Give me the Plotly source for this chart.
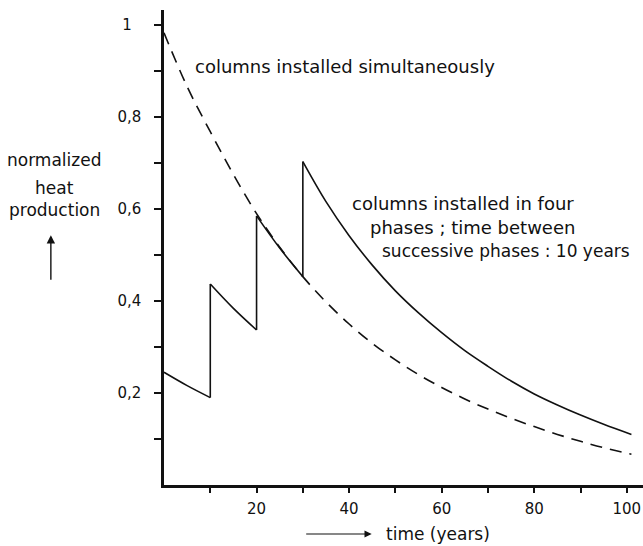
import plotly.graph_objects as go

# ---- data ----
# simultaneous installation (dashed)
sim_t = [0, 5, 10, 15, 20, 25, 30, 35, 40, 45, 50, 55, 60, 65, 70, 75, 80, 85, 90, 95, 101]
sim_y = [0.983, 0.866, 0.768, 0.675, 0.590, 0.517, 0.453, 0.398, 0.350, 0.308, 0.272,
         0.240, 0.212, 0.187, 0.165, 0.145, 0.127, 0.110, 0.095, 0.081, 0.067]

# installation in four phases (solid), one segment per phase
ph1_t = [0, 5, 10]
ph1_y = [0.245, 0.216, 0.190]
ph2_t = [10, 15, 20]
ph2_y = [0.437, 0.384, 0.337]
ph3_t = [20, 25, 30]
ph3_y = [0.585, 0.515, 0.453]
ph4_t = [30, 35, 40, 45, 50, 55, 60, 65, 70, 75, 80, 85, 90, 95, 101]
ph4_y = [0.703, 0.616, 0.542, 0.478, 0.422, 0.374, 0.331, 0.292, 0.258, 0.226,
         0.198, 0.174, 0.152, 0.132, 0.110]

x_tick_vals = [10, 20, 30, 40, 50, 60, 70, 80, 90, 100]
x_tick_text = ["", "20", "", "40", "", "60", "", "80", "", "100"]
y_tick_vals = [0.1, 0.2, 0.3, 0.4, 0.5, 0.6, 0.7, 0.8, 0.9, 1.0]
y_tick_text = ["", "0,2", "", "0,4", "", "0,6", "", "0,8", "", "1\u00a0\u00a0"]

FONT = "DejaVu Sans"
BLACK = "#111111"

fig = go.Figure()

fig.add_trace(go.Scatter(x=sim_t, y=sim_y, mode="lines",
                         line=dict(color=BLACK, width=1.6, dash="12px,8px", shape="spline"),
                         showlegend=False, hoverinfo="skip"))

segments = [(ph1_t, ph1_y), (ph2_t, ph2_y), (ph3_t, ph3_y), (ph4_t, ph4_y)]
for t, y in segments:
    fig.add_trace(go.Scatter(x=t, y=y, mode="lines",
                             line=dict(color=BLACK, width=1.6, shape="spline"),
                             showlegend=False, hoverinfo="skip"))
# vertical jumps where a new phase starts
for (t0, y0), (t1, y1) in zip(segments[:-1], segments[1:]):
    fig.add_trace(go.Scatter(x=[t0[-1], t1[0]], y=[y0[-1], y1[0]], mode="lines",
                             line=dict(color=BLACK, width=1.6),
                             showlegend=False, hoverinfo="skip"))

in_font = dict(family=FONT, size=18, color=BLACK)
in_font2 = dict(family=FONT, size=17, color=BLACK)
ax_font = dict(family=FONT, size=17, color=BLACK)
annotations = [
    dict(x=6.2, y=0.909, xref="x", yref="y", text="columns installed simultaneously",
         showarrow=False, xanchor="left", yanchor="middle", font=in_font),
    dict(x=40.1, y=0.611, xref="x", yref="y", text="columns installed in four",
         showarrow=False, xanchor="left", yanchor="middle", font=in_font),
    dict(x=44.0, y=0.559, xref="x", yref="y", text="phases ; time between",
         showarrow=False, xanchor="left", yanchor="middle", font=in_font),
    dict(x=46.6, y=0.509, xref="x", yref="y", text="successive phases : 10 years",
         showarrow=False, xanchor="left", yanchor="middle", font=in_font2),
    # y-axis label
    dict(x=-0.2288, y=0.684, xref="paper", yref="paper", text="normalized",
         showarrow=False, xanchor="center", yanchor="middle", font=ax_font),
    dict(x=-0.2288, y=0.625, xref="paper", yref="paper", text="heat",
         showarrow=False, xanchor="center", yanchor="middle", font=ax_font),
    dict(x=-0.2288, y=0.579, xref="paper", yref="paper", text="production",
         showarrow=False, xanchor="center", yanchor="middle", font=ax_font),
    dict(x=-0.2362, y=0.526, xref="paper", yref="paper", text="",
         showarrow=True, ax=0, ay=46, arrowhead=2, arrowsize=1.2, arrowwidth=1.4,
         arrowcolor=BLACK),
    # x-axis label
    dict(x=0.5716, y=-0.1032, xref="paper", yref="paper", text="time (years)",
         showarrow=False, xanchor="center", yanchor="middle", font=ax_font),
    dict(x=0.4336, y=-0.1032, xref="paper", yref="paper", text="",
         showarrow=True, ax=-67, ay=0, arrowhead=2, arrowsize=1.2, arrowwidth=1.2,
         arrowcolor=BLACK),
]

fig.update_layout(
    width=643, height=546,
    margin=dict(l=164, r=0, t=10, b=61),
    paper_bgcolor="white", plot_bgcolor="white",
    font=dict(family=FONT, color=BLACK),
    annotations=annotations,
    xaxis=dict(range=[0, 103.5], showgrid=False, zeroline=False,
               showline=True, linecolor=BLACK, linewidth=2.5,
               ticks="outside", ticklen=5, tickwidth=1.5, tickcolor=BLACK,
               tickvals=x_tick_vals, ticktext=x_tick_text,
               tickfont=dict(family=FONT, size=15, color=BLACK),
               ticklabelstandoff=3),
    yaxis=dict(range=[0, 1.0326], showgrid=False, zeroline=False,
               showline=True, linecolor=BLACK, linewidth=2.5,
               ticks="outside", ticklen=7, tickwidth=1.5, tickcolor=BLACK,
               tickvals=y_tick_vals, ticktext=y_tick_text,
               tickfont=dict(family=FONT, size=15, color=BLACK),
               ticklabelstandoff=10),
)

fig.write_html("out.html")
